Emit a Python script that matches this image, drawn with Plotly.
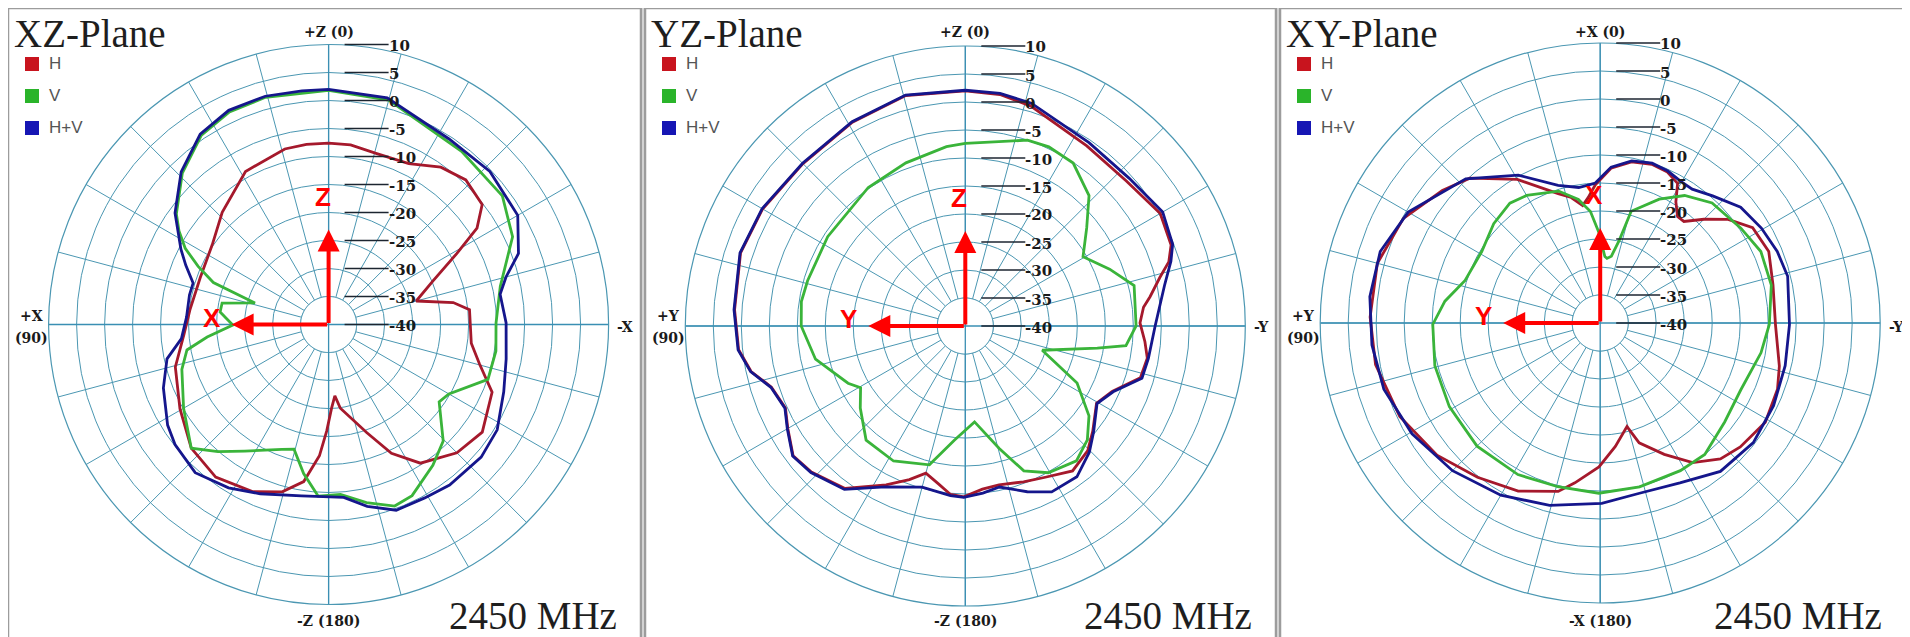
import numpy as np
import plotly.graph_objects as go

# the page body keeps a default 8 px margin, so the figure is laid out in window pixels minus that offset
WIN_W, WIN_H = 1910, 637
OFF = 8
W, H = WIN_W - OFF, WIN_H - OFF

R_PX = 280                      # outer ring radius in px
R_MIN, R_MAX = -40, 10          # dB range of the radial axis
PX_PER_DB = R_PX / (R_MAX - R_MIN)

RING_LABELS = [10, 5, 0, -5, -10, -15, -20, -25, -30, -35, -40]
GRID_RINGS = [-35, -30, -25, -20, -15, -10, -5, 0, 5]

GRID = "#4b97b2"
AXIS = "#3a8fb3"
LINE_COLORS = {"H": "#a5192c", "V": "#3ab43a", "H+V": "#15168c"}
SWATCH_COLORS = {"H": "#c8141e", "V": "#2ab42a", "H+V": "#1616b4"}
SERIF = "Liberation Serif, Times New Roman, serif"
LABEL_SERIF = "DejaVu Serif, serif"
SANS = "Liberation Sans, Arial, sans-serif"

# ---------------- XZ-Plane ----------------
XZ_HV_THETA = [0, 6.5, 15.5, 25, 34, 44, 54, 63, 67.5, 73, 78, 87, 95.5, 102, 111, 122, 128, 138, 148.5, 158,
               171, 180.5, 185, 192, 200, 209, 217, 229, 238, 249, 259, 270.5, 280, 285, 290.5, 300, 313.5, 327, 345.5]
XZ_HV_DB = [2.0, 2.0, 2.3, 2.2, 1.0, -2.1, -6.1, -10.4, -12.4, -14.7, -14.6, -14.6, -13.6, -10.5, -8.4, -6.1, -5.2, -4.4, -5.8, -7.4,
            -9.0, -9.2, -9.0, -6.8, -4.7, -4.6, -4.1, -3.9, -4.5, -6.5, -7.7, -8.3, -8.9, -7.2, -3.8, -1.0, -0.3, -0.5, 1.8]

XZ_H_THETA = [0, 7, 14, 28.5, 43.5, 55.5, 70, 84, 94, 105.5, 119.5, 132, 143.5, 155.5, 164.5, 171, 176, 179, 182, 185,
              188, 199.5, 206, 213.5, 225, 235, 247.5, 255.5, 262.5, 276, 280, 285, 292.5, 299, 303, 308, 316.5, 324.5, 333.5, 344.5, 353]
XZ_H_DB = [-7.6, -7.6, -7.7, -8.9, -12.4, -14.8, -15.6, -15.1, -14.1, -11.6, -9.5, -7.0, -6.1, -7.2, -9.0, -11.6, -16.5, -21.0, -25.0, -27.2,
           -24.9, -19.5, -14.4, -10.3, -7.6, -6.5, -8.4, -12.2, -14.3, -14.7, -17.4, -23.8, -19.9, -13.8, -8.4, -5.2, -4.4, -5.5, -7.9, -8.3, -7.7]

XZ_V_THETA = [0, 15.5, 25, 34, 44, 54, 58, 62, 66, 70, 73.7, 78.6, 83.4, 90.3, 95.9, 100.2, 107, 120, 132, 139, 146.5,
              159.5, 164.5, 170.5, 176.5, 184, 192, 200, 206, 216.5, 224.5, 235, 240, 251, 261, 270.5, 282.5, 295.5, 306.5, 322.5, 345]
XZ_V_DB = [1.8, 2.1, 1.9, 0.7, -2.4, -6.4, -8.5, -11.0, -14.5, -18.1, -26.3, -20.6, -20.5, -22.9, -18.2, -14.3, -12.6, -10.1, -7.0, -9.9, -12.9,
           -16.2, -16.9, -13.0, -9.3, -9.6, -7.5, -5.5, -6.0, -8.7, -10.8, -15.9, -15.2, -9.9, -9.75, -10.1, -8.6, -3.6, -1.4, -1.0, 1.5]

# ---------------- YZ-Plane ----------------
YZ_HV_THETA = [0, 14.5, 29, 45, 60, 72, 86, 96, 102, 107.5, 114.5, 120, 127, 133.5, 143.5, 153.5, 165, 175, 179.5, 186,
               192, 200.5, 207.5, 216.5, 224.5, 230.5, 239.5, 246, 253.5, 260, 270, 281.5, 287.5, 291.5, 300, 312, 326, 343.5, 351.5]
YZ_HV_DB = [2.1, 2.6, 1.7, 1.1, 1.9, 2.3, 1.4, 0.8, -0.8, -3.6, -4.6, -3.3, -1.4, -2.0, -3.7, -7.9, -10.2, -9.6, -9.4, -10.0,
            -10.6, -8.4, -6.6, -6.5, -8.4, -10.3, -12.7, -11.1, -7.1, -6.8, -6.1, -3.7, -1.5, -0.2, 0.7, -0.6, -0.5, 1.5, 2.0]

YZ_H_THETA = [0, 14.5, 29, 45, 60, 72, 86, 96, 102, 107.5, 114.5, 120, 127, 133.5, 143.5, 153.5, 160, 165, 170, 175,
              179.5, 186, 192, 200.5, 207.5, 216.5, 224.5, 230.5, 239.5, 246, 253.5, 260, 265, 271, 276, 279, 284, 287.5, 291.5, 300,
              312, 326, 343.5, 351.5]
YZ_H_DB = [2.0, 2.5, 1.6, 1.0, 1.8, 2.2, 1.3, 0.7, -0.9, -3.7, -4.7, -3.4, -1.5, -2.1, -3.9, -8.3, -10.8, -12.8, -11.5, -9.8,
           -9.5, -10.7, -11.0, -10.3, -9.5, -7.8, -8.8, -10.5, -12.8, -11.3, -7.4, -7.0, -7.8, -8.8, -8.0, -6.6, -4.2, -1.9, -0.5, 0.2,
           -1.3, -1.2, 1.0, 1.8]

YZ_V_THETA = [0, 6, 20, 35, 57, 74, 81.5, 90, 102.5, 116, 120.5, 128, 139, 152, 165.5, 174.5, 185.5, 195.5, 202, 209.5,
              219.5, 227, 234, 243, 252.5, 260.5, 263, 270, 283.5, 291.5, 300.5, 309, 316.5, 326.5, 335, 341.5]
YZ_V_DB = [-7.4, -7.8, -9.0, -9.8, -10.7, -10.7, -10.4, -10.7, -12.6, -16.7, -18.3, -16.2, -13.0, -12.7, -14.4, -19.5, -22.8, -17.3, -12.1, -9.9,
           -8.8, -10.2, -12.7, -17.6, -25.6, -16.1, -11.1, -9.5, -9.0, -12.3, -15.6, -12.1, -7.9, -5.1, -4.7, -5.0]

# ---------------- XY-Plane ----------------
XY_HV_THETA = [2, 9, 17, 29, 43, 60, 72, 83.5, 95.5, 107, 120.5, 135, 150, 164.5, 180.5, 193, 206.5, 219, 232, 244.5,
               257, 269.5, 284, 292, 300.5, 309.5, 318.5, 325.5, 330.5, 336, 342, 349, 356]
XY_HV_DB = [-15.0, -15.5, -14.3, -9.8, -4.8, -0.4, 1.3, 1.4, 0.95, 0.4, -1.0, -2.7, -4.5, -6.2, -7.8, -8.8, -8.1, -5.9, -5.3, -5.7,
            -6.1, -6.2, -5.5, -5.9, -6.6, -7.5, -9.7, -11.0, -10.9, -10.3, -10.0, -10.5, -12.1]

XY_H_THETA = [2, 5.5, 8.5, 13, 18, 30, 42, 50, 62, 75, 88.5, 100.5, 115, 129, 141.5, 154, 166, 171, 179.5, 187,
              194.5, 198, 206, 213.5, 221.5, 228.5, 239, 249.5, 256.5, 269.5, 282.5, 293, 302, 309, 315, 320.5, 324, 328, 331, 336,
              342, 349, 356]
XY_H_DB = [-15.3, -17.5, -18.8, -17.0, -15.7, -10.4, -5.2, -3.2, -0.2, 1.2, 1.1, 0.8, -0.5, -2.5, -4.8, -6.6, -9.0, -11.1, -14.3, -17.8,
           -20.9, -17.5, -13.9, -10.1, -7.6, -6.6, -5.6, -6.2, -7.1, -8.7, -8.4, -7.3, -7.9, -10.6, -13.8, -16.5, -16.5, -14.5, -11.5, -10.5,
           -10.2, -10.7, -12.3]

XY_V_THETA = [1, 5, 10, 17.5, 30, 37, 47, 59, 72.5, 82, 90.5, 104.5, 119, 135, 151.5, 165.5, 179.5, 193.5, 208.5, 218.5,
              231.5, 244.5, 259.5, 269.5, 282.5, 294, 304, 317, 326.5, 334.5, 344.5, 347, 350.5, 354, 356]
XY_V_DB = [-23.7, -20.0, -17.6, -15.3, -13.7, -13.2, -14.0, -15.3, -14.7, -12.0, -10.1, -9.5, -9.2, -8.9, -9.2, -9.8, -9.6, -9.9, -10.0, -10.0,
           -11.6, -12.2, -10.8, -9.8, -8.7, -8.6, -9.7, -10.7, -12.7, -15.5, -19.3, -24.8, -27.9, -28.4, -28.1]

PANELS = [
    dict(title="XZ-Plane", top="+Z (0)", bottom="-Z (180)", left="+X", right="-X", up="Z", side="X",
         box=(8, 641), center=(328.6, 324.5),
         series={"H": (XZ_H_THETA, XZ_H_DB), "V": (XZ_V_THETA, XZ_V_DB), "H+V": (XZ_HV_THETA, XZ_HV_DB)}),
    dict(title="YZ-Plane", top="+Z (0)", bottom="-Z (180)", left="+Y", right="-Y", up="Z", side="Y",
         box=(645, 1276), center=(965.3, 326.0),
         series={"H": (YZ_H_THETA, YZ_H_DB), "V": (YZ_V_THETA, YZ_V_DB), "H+V": (YZ_HV_THETA, YZ_HV_DB)}),
    dict(title="XY-Plane", top="+X (0)", bottom="-X (180)", left="+Y", right="-Y", up="X", side="Y",
         box=(1280, 1906), center=(1600.2, 323.0),
         series={"H": (XY_H_THETA, XY_H_DB), "V": (XY_V_THETA, XY_V_DB), "H+V": (XY_HV_THETA, XY_HV_DB)}),
]


def fx(px):
    return (px - OFF) / W


def fy(py):
    return 1 - (py - OFF) / H


fig = go.Figure()
shapes, annotations = [], []

disk_theta = np.linspace(0, 360, 181)

for i, p in enumerate(PANELS):
    pid = "polar" if i == 0 else f"polar{i + 1}"
    left, right = p["box"]
    cx, cy = p["center"]

    shapes.append(dict(type="rect", xref="paper", yref="paper", x0=fx(left), x1=fx(right), y0=fy(WIN_H + 4), y1=fy(8),
                       fillcolor="white", line=dict(color="#9c9c9c", width=2.5), layer="below"))

    fig.update_layout({pid: dict(
        domain=dict(x=[fx(cx - R_PX), fx(cx + R_PX)], y=[fy(cy + R_PX), fy(cy - R_PX)]),
        bgcolor="rgba(0,0,0,0)",
        angularaxis=dict(rotation=90, direction="counterclockwise", tickmode="linear", tick0=0, dtick=15,
                         showticklabels=False, ticks="", showgrid=True, gridcolor=GRID, gridwidth=1,
                         showline=True, linecolor=GRID, linewidth=1.2),
        radialaxis=dict(range=[R_MIN, R_MAX], tickvals=GRID_RINGS, showticklabels=False, ticks="",
                        showline=False, showgrid=True, gridcolor=GRID, gridwidth=1),
    )})

    # keep the innermost ring free of spokes
    fig.add_trace(go.Scatterpolar(r=[-35] * len(disk_theta), theta=disk_theta, subplot=pid, mode="lines",
                                  fill="toself", fillcolor="white", line=dict(color=GRID, width=1),
                                  hoverinfo="skip", showlegend=False))
    for a, b in ((0, 180), (90, 270)):
        fig.add_trace(go.Scatterpolar(r=[R_MAX, R_MIN, R_MAX], theta=[a, a, b], subplot=pid, mode="lines",
                                      line=dict(color=AXIS, width=1.3), hoverinfo="skip", showlegend=False))

    for name in ["H", "V", "H+V"]:
        th, db = p["series"][name]
        fig.add_trace(go.Scatterpolar(r=list(db) + [db[0]], theta=list(th) + [th[0]], subplot=pid,
                                      mode="lines", name=name, showlegend=False,
                                      line=dict(color=LINE_COLORS[name], width=2.8)))

    # radial scale ticks and labels
    for lvl in RING_LABELS:
        ty = cy - (lvl - R_MIN) * PX_PER_DB
        shapes.append(dict(type="line", xref="paper", yref="paper", x0=fx(cx + 16), x1=fx(cx + 60),
                           y0=fy(ty), y1=fy(ty), line=dict(color="#1c2530", width=1.4), layer="above"))
        annotations.append(dict(x=fx(cx + 58), y=fy(ty + 1.5), xanchor="left", text=f"<b>{lvl}</b>",
                                font=dict(family=LABEL_SERIF, size=15, color="#1a1a1a")))

    # direction labels
    lab_font = dict(family=LABEL_SERIF, size=14, color="#1a1a1a")
    annotations += [
        dict(x=fx(cx), y=fy(32), text=f"<b>{p['top']}</b>", font=lab_font),
        dict(x=fx(cx), y=fy(621), text=f"<b>{p['bottom']}</b>", font=lab_font),
        dict(x=fx(left + 23), y=fy(316), text=f"<b>{p['left']}</b>", font=lab_font),
        dict(x=fx(left + 23), y=fy(338), text="<b>(90)</b>", font=lab_font),
        dict(x=fx(min(cx + 296, right - 9)), y=fy(327), text=f"<b>{p['right']}</b>", font=lab_font),
    ]

    # title, frequency
    annotations.append(dict(x=fx(left + 4), y=fy(34), xanchor="left", text=p["title"],
                            font=dict(family=SERIF, size=39, color="#1e1e1e")))
    annotations.append(dict(x=fx(right - 22), y=fy(615), xanchor="right", text="2450 MHz",
                            font=dict(family=SERIF, size=39, color="#1e1e1e")))

    # legend swatches
    for k, name in enumerate(["H", "V", "H+V"]):
        sy = 64 + 32 * k
        shapes.append(dict(type="rect", xref="paper", yref="paper", x0=fx(left + 17), x1=fx(left + 31),
                           y0=fy(sy + 7), y1=fy(sy - 7), fillcolor=SWATCH_COLORS[name], line_width=0))
        annotations.append(dict(x=fx(left + 39), y=fy(sy), xanchor="left", text=name,
                                font=dict(family=SANS, size=17, color="#555555")))

    # red coordinate arrows
    for tip, off in (((cx, cy - 95), (0, 95)), ((cx - 97, cy), (97, 0))):
        annotations.append(dict(x=fx(tip[0]), y=fy(tip[1]), ax=off[0], ay=off[1], text="", showarrow=True,
                                arrowhead=2, arrowsize=1.1, arrowwidth=4, arrowcolor="#ff0000", standoff=0,
                                startstandoff=0))
    annotations.append(dict(x=fx(cx - 6), y=fy(cy - 128), text=f"<b>{p['up']}</b>",
                            font=dict(family=SANS, size=26, color="#ff0000")))
    annotations.append(dict(x=fx(cx - 117), y=fy(cy - 7), text=f"<b>{p['side']}</b>",
                            font=dict(family=SANS, size=26, color="#ff0000")))

for a in annotations:
    a.setdefault("xref", "paper")
    a.setdefault("yref", "paper")
    a.setdefault("showarrow", False)
    a.setdefault("xanchor", "center")
    a.setdefault("yanchor", "middle")

fig.update_layout(width=W, height=H, margin=dict(l=0, r=0, t=0, b=0),
                  paper_bgcolor="#e4e4e4", plot_bgcolor="white", showlegend=False,
                  shapes=shapes, annotations=annotations)

fig.write_html("out.html")
